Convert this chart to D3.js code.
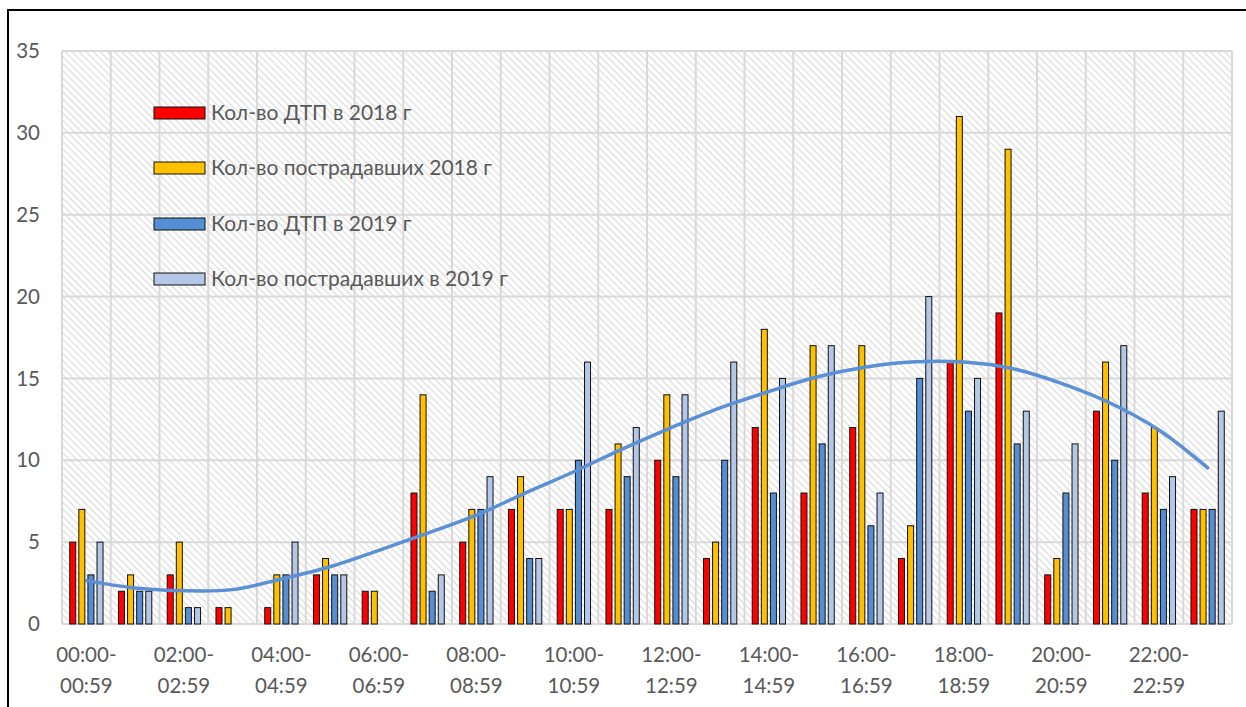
<!DOCTYPE html>
<html>
<head>
<meta charset="utf-8">
<script src="https://cdn.jsdelivr.net/npm/d3@7"></script>
<style>
  body { margin: 0; background: #fff; }
  svg { display: block; font-family: Lato, "Open Sans", sans-serif; }
</style>
</head>
<body>
<div id="chart"></div>
<script>
// hours of the day
var hours = ["00","01","02","03","04","05","06","07","08","09","10","11",
             "12","13","14","15","16","17","18","19","20","21","22","23"];

var seriesNames = ["Кол-во ДТП в 2018 г", "Кол-во пострадавших 2018 г",
                   "Кол-во ДТП в 2019 г", "Кол-во пострадавших в 2019 г"];
var seriesColors = ["#ff0000", "#ffc000", "#568ed4", "#b4c7e7"];

var dtp2018 = [5,2,3,1,1,3,2,8,5,7,7,7,10,4,12,8,12,4,16,19,3,13,8,7];
var injured2018 = [7,3,5,1,3,4,2,14,7,9,7,11,14,5,18,17,17,6,31,29,4,16,12,7];
var dtp2019 = [3,2,1,0,3,3,0,2,7,4,10,9,9,10,8,11,6,15,13,11,8,10,7,7];
var injured2019 = [5,2,1,0,5,3,0,3,9,4,16,12,14,16,15,17,8,20,15,13,11,17,9,13];

// trend line (value at each hour)
var trendValues = [2.65,2.2,2.03,2.1,2.75,3.5,4.5,5.55,6.65,8.0,9.3,10.7,
                   12.0,13.2,14.2,15.1,15.7,16.02,16.0,15.6,14.7,13.5,11.85,9.54];

var yTicks = [0,5,10,15,20,25,30,35];

var allSeries = [dtp2018, injured2018, dtp2019, injured2019];

var width = 1246, height = 707;
var plot = {left: 62, right: 1232, top: 51, bottom: 624};

var svg = d3.select("#chart").append("svg")
    .attr("width", width)
    .attr("height", height);

// hatch pattern for plot background
var defs = svg.append("defs");
var pat = defs.append("pattern")
    .attr("id", "hatch")
    .attr("patternUnits", "userSpaceOnUse")
    .attr("width", 5)
    .attr("height", 5)
    .attr("patternTransform", "rotate(45)");
pat.append("rect").attr("width", 5).attr("height", 5).attr("fill", "#ffffff");
pat.append("line")
    .attr("x1", 0).attr("y1", 0).attr("x2", 5).attr("y2", 0)
    .attr("stroke", "#dcdcdc").attr("stroke-width", 2.5);

// outer border
svg.append("rect")
    .attr("x", 8).attr("y", 10)
    .attr("width", 1300).attr("height", 800)
    .attr("fill", "none")
    .attr("stroke", "#000")
    .attr("stroke-width", 2);

var x = d3.scaleBand()
    .domain(hours)
    .range([plot.left, plot.right])
    .padding(0);

var groupWidth = 36.4;
var x1 = d3.scaleBand()
    .domain(d3.range(4))
    .range([0, groupWidth])
    .paddingInner(0.34)
    .paddingOuter(0.17);

var y = d3.scaleLinear()
    .domain([0, 35])
    .range([plot.bottom, plot.top]);

svg.append("rect")
    .attr("x", plot.left).attr("y", plot.top)
    .attr("width", plot.right - plot.left)
    .attr("height", plot.bottom - plot.top)
    .attr("fill", "url(#hatch)");

// grid
svg.append("g")
    .selectAll("line")
    .data(yTicks)
    .enter().append("line")
    .attr("x1", plot.left).attr("x2", plot.right)
    .attr("y1", function(d){ return y(d); })
    .attr("y2", function(d){ return y(d); })
    .attr("stroke", "#d9d9d9")
    .attr("stroke-width", 2);

svg.append("g")
    .selectAll("line")
    .data(hours.concat(["end"]))
    .enter().append("line")
    .attr("x1", function(d){ return d === "end" ? plot.right : x(d); })
    .attr("x2", function(d){ return d === "end" ? plot.right : x(d); })
    .attr("y1", plot.top).attr("y2", plot.bottom)
    .attr("stroke", "#d9d9d9")
    .attr("stroke-width", 2);

// y labels
svg.append("g")
    .selectAll("text")
    .data(yTicks)
    .enter().append("text")
    .attr("x", 40)
    .attr("y", function(d){ return y(d); })
    .attr("dy", "0.35em")
    .attr("text-anchor", "end")
    .attr("font-size", 20.5)
    .attr("fill", "#595959")
    .text(function(d){ return d; });

// x labels, every other hour
var xl = svg.append("g")
    .selectAll("text")
    .data(hours.filter(function(d, i){ return i % 2 === 0; }))
    .enter().append("text")
    .attr("text-anchor", "middle")
    .attr("font-size", 20.5)
    .attr("fill", "#595959");
xl.append("tspan")
    .attr("x", function(d){ return x(d) + x.bandwidth() / 2; })
    .attr("y", 662)
    .text(function(d){ return d + ":00-"; });
xl.append("tspan")
    .attr("x", function(d){ return x(d) + x.bandwidth() / 2; })
    .attr("y", 693)
    .text(function(d){ return d + ":59"; });

// bars
var groups = svg.append("g")
    .selectAll("g")
    .data(hours)
    .enter().append("g")
    .attr("transform", function(d){
        return "translate(" + (x(d) + (x.bandwidth() - groupWidth) / 2) + ",0)";
    });

groups.selectAll("rect")
    .data(function(d, i){
        return allSeries.map(function(s, k){ return {k: k, v: s[i]}; });
    })
    .enter().append("rect")
    .filter(function(d){ return d.v > 0; })
    .attr("x", function(d){ return x1(d.k); })
    .attr("width", x1.bandwidth())
    .attr("y", function(d){ return y(d.v); })
    .attr("height", function(d){ return y(0) - y(d.v); })
    .attr("fill", function(d){ return seriesColors[d.k]; })
    .attr("stroke", "#111")
    .attr("stroke-width", 1);

// trend line
var line = d3.line()
    .x(function(d, i){ return x(hours[i]) + x.bandwidth() / 2; })
    .y(function(d){ return y(d); })
    .curve(d3.curveCatmullRom);

svg.append("path")
    .datum(trendValues)
    .attr("d", line)
    .attr("fill", "none")
    .attr("stroke", "#5b8fd6")
    .attr("stroke-width", 3.5)
    .attr("stroke-linecap", "round");

// legend
var legendY = [113, 168, 224, 279];
var legend = svg.append("g")
    .selectAll("g")
    .data(seriesNames)
    .enter().append("g")
    .attr("transform", function(d, i){ return "translate(154," + legendY[i] + ")"; });

legend.append("rect")
    .attr("x", 0).attr("y", -6)
    .attr("width", 51).attr("height", 12)
    .attr("fill", function(d, i){ return seriesColors[i]; })
    .attr("stroke", "#111")
    .attr("stroke-width", 1);

legend.append("text")
    .attr("x", 57)
    .attr("dy", "0.35em")
    .attr("font-size", 21)
    .attr("fill", "#595959")
    .text(function(d){ return d; });
</script>
</body>
</html>
